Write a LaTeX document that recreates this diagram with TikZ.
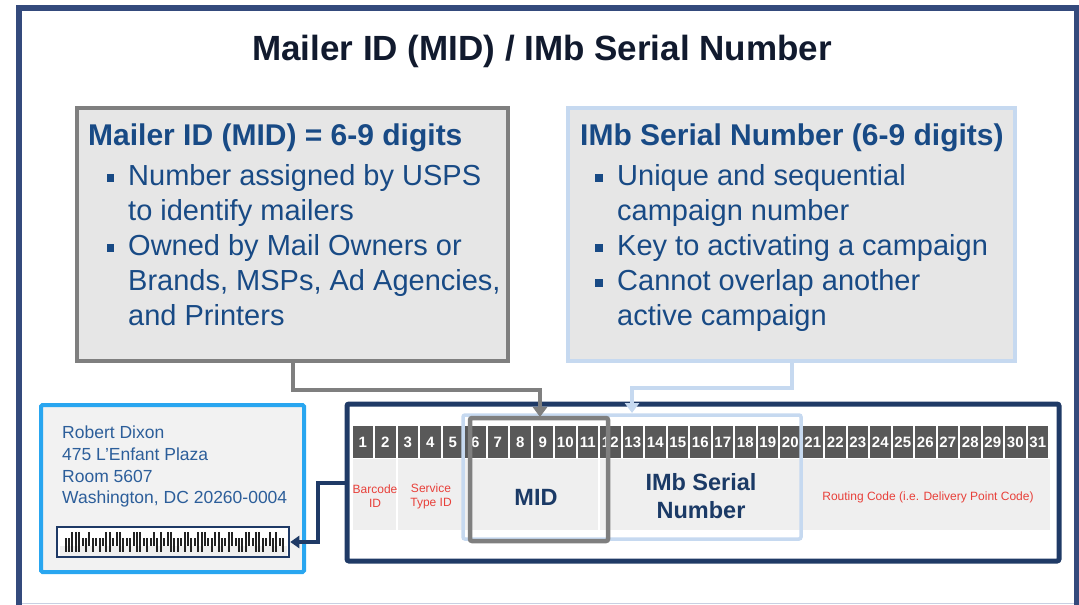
\documentclass[tikz,border=0pt]{standalone}
\usepackage{fontspec}
\setmainfont{Liberation Sans}
\usetikzlibrary{arrows.meta}
\definecolor{framenavy}{HTML}{344A7C}
\definecolor{framelight}{HTML}{C8D0E2}
\definecolor{titleink}{HTML}{111A2E}
\definecolor{txtblue}{HTML}{184A85}
\definecolor{boxgray}{HTML}{E6E6E6}
\definecolor{bordergray}{HTML}{7F7F7F}
\definecolor{lightblue}{HTML}{C6D9F0}
\definecolor{bcnavy}{HTML}{1F3A66}
\definecolor{skyblue}{HTML}{29A6F0}
\definecolor{addrfill}{HTML}{F2F2F2}
\definecolor{addrtext}{HTML}{2C5E9A}
\definecolor{cellgray}{HTML}{595959}
\definecolor{rowgray}{HTML}{EFEFEF}
\definecolor{lblred}{HTML}{E8403A}
\definecolor{boldnavy}{HTML}{1B3A66}
\definecolor{barink}{HTML}{222222}
\begin{document}
\begin{tikzpicture}[x=1pt,y=-1pt,
  boxtitle/.style={anchor=base west, inner sep=0pt, font=\fontsize{30}{36}\selectfont\bfseries, text=txtblue},
  bullettext/.style={anchor=base west, inner sep=0pt, font=\fontsize{29}{35}\selectfont, text=txtblue},
  bulletsq/.style={fill=txtblue, minimum size=7.5pt, inner sep=0pt},
  cell/.style={fill=cellgray, minimum width=20.5pt, minimum height=32pt, inner sep=0pt, text=white, font=\fontsize{15}{16}\selectfont\bfseries},
  seg/.style={fill=rowgray, minimum height=71pt, inner sep=0pt},
  redlbl/.style={text=lblred, font=\fontsize{12}{14}\selectfont, align=center, inner sep=0pt},
  navylbl/.style={text=boldnavy, font=\fontsize{23.5}{28}\selectfont\bfseries, align=center, inner sep=0pt},
  addrline/.style={anchor=base west, inner sep=0pt, text=addrtext, font=\fontsize{17.5}{21}\selectfont},
  grayconn/.style={draw=bordergray, line width=4pt, -{Triangle[length=10pt,width=14pt]}},
  blueconn/.style={draw=lightblue, line width=4pt, -{Triangle[length=10pt,width=14pt]}},
  navyconn/.style={draw=bcnavy, line width=3.5pt, -{Triangle[length=9pt,width=12pt]}},
  bar/.style={draw=barink, line width=2pt}
]
\useasboundingbox (0,0) rectangle (1079,605);
% outer frame
\draw[framelight, line width=1.5pt] (22,603.5) -- (1074,603.5);
\draw[framenavy, line width=6pt] (19,606) -- (19,8) -- (1076.5,8) -- (1076.5,606);
% title
\node[anchor=base, inner sep=0pt, text=titleink, font=\fontsize{35}{40}\selectfont\bfseries] (title) at (542,60) {Mailer ID (MID) / IMb Serial Number};

% Mailer ID box
\node[draw=bordergray, fill=boxgray, line width=4.5pt, minimum width=431pt, minimum height=253pt, inner sep=0pt] (midbox) at (292.5,234.5) {};
\node[boxtitle] (midtitle) at (88,145) {Mailer ID (MID) = 6-9 digits};
\node[bulletsq] (mb1) at (110.5,178) {};
\node[bullettext] (ml1) at (128,185) {Number assigned by USPS};
\node[bullettext] (ml2) at (128,220) {to identify mailers};
\node[bulletsq] (mb2) at (110.5,248) {};
\node[bullettext] (ml3) at (128,255) {Owned by Mail Owners or};
\node[bullettext] (ml4) at (128,290) {Brands, MSPs, Ad Agencies,};
\node[bullettext] (ml5) at (128,325) {and Printers};

% IMb serial box
\node[draw=lightblue, fill=boxgray, line width=4.5pt, minimum width=447pt, minimum height=253pt, inner sep=0pt] (imbbox) at (791.5,234.5) {};
\node[boxtitle] (imbtitle) at (580,145) {IMb Serial Number (6-9 digits)};
\node[bulletsq] (ib1) at (599,178) {};
\node[bullettext] (il1) at (617,185) {Unique and sequential};
\node[bullettext] (il2) at (617,220) {campaign number};
\node[bulletsq] (ib2) at (599,248) {};
\node[bullettext] (il3) at (617,255) {Key to activating a campaign};
\node[bulletsq] (ib3) at (599,283) {};
\node[bullettext] (il4) at (617,290) {Cannot overlap another};
\node[bullettext] (il5) at (617,325) {active campaign};

% barcode frame
\node[draw=bcnavy, line width=5pt, rounded corners=2pt, minimum width=712pt, minimum height=157pt, inner sep=0pt] (imbframe) at (703,482.5) {};

% cells
\foreach \i in {1,...,31}{
  \node[cell] (c\i) at ({362.75+(\i-1)*22.5},442) {\i};
}
% segments
\node[seg, minimum width=43pt] (sbar) at (374,494.5) {};
\node[seg, minimum width=65.5pt] (ssvc) at (430.25,494.5) {};
\node[seg, minimum width=133pt] (smid) at (531.5,494.5) {};
\node[seg, minimum width=200.5pt] (sser) at (700.25,494.5) {};
\node[seg, minimum width=247.5pt] (srt) at (926.25,494.5) {};
\node[redlbl] (lbar) at (375,496) {Barcode\\ID};
\node[redlbl] (lsvc) at (431,496) {Service\\Type ID};
\node[navylbl] (lmid) at (536,497) {MID};
\node[navylbl] (lser) at (701,496) {IMb Serial\\Number};
\node[redlbl] (lrt) at (928,497) {Routing Code (i.e. Delivery Point Code)};

% highlight boxes
\node[draw=lightblue, line width=3.5pt, rounded corners=2pt, minimum width=338pt, minimum height=124pt, inner sep=0pt] (serhl) at (632,477) {};
\node[draw=bordergray, line width=4.5pt, rounded corners=2pt, minimum width=138pt, minimum height=123pt, inner sep=0pt] (midhl) at (539,479.5) {};

% address box
\node[draw=skyblue, fill=addrfill, line width=4pt, rounded corners=1.5pt, minimum width=263pt, minimum height=167pt, inner sep=0pt] (addrbox) at (172.5,488.5) {};
\node[addrline] (a1) at (62,438) {Robert Dixon};
\node[addrline] (a2) at (62,460) {475 L’Enfant Plaza};
\node[addrline] (a3) at (62,482) {Room 5607};
\node[addrline] (a4) at (62,503) {Washington, DC 20260-0004};
\node[draw=bcnavy, line width=2.5pt, fill=white, minimum width=232pt, minimum height=30pt, inner sep=0pt] (barcode) at (173,542) {};
\fill[rowgray] (59.5,546) rectangle (286.5,555.5);
\foreach \t [count=\i from 0] in {2,2,3,3,3,0,2,1,2,0,2,0,3,3,0,1,3,2,0,2,1,3,3,0,2,0,1,2,3,0,1,3,2,2,0,3,1,2,0,3,3,1,0,2,1,3,2,0,3,1,0,2,2,3,1,0,3,3,2,0,1,2,3,0,2}{
  \pgfmathsetmacro\ytop{(\t==1 || \t==3) ? 532 : 538}
  \pgfmathsetmacro\ybot{(\t==2 || \t==3) ? 552 : 546}
  \draw[bar] ({65.5+\i*3.4},\ytop) -- ({65.5+\i*3.4},\ybot);
}

% connectors
\coordinate (midknee) at (540,390);
\coordinate (midtarget) at (540,417);
\draw[grayconn] (midbox.south) |- (midknee) -- (midtarget);
\coordinate (serknee) at (632,388);
\coordinate (sertarget) at (632,413);
\draw[blueconn] (imbbox.south) |- (serknee) -- (sertarget);
\coordinate (navyknee) at (318,483);
\draw[navyconn] (navyknee -| imbframe.west) -- (navyknee) |- (barcode.east);
\end{tikzpicture}
\end{document}
